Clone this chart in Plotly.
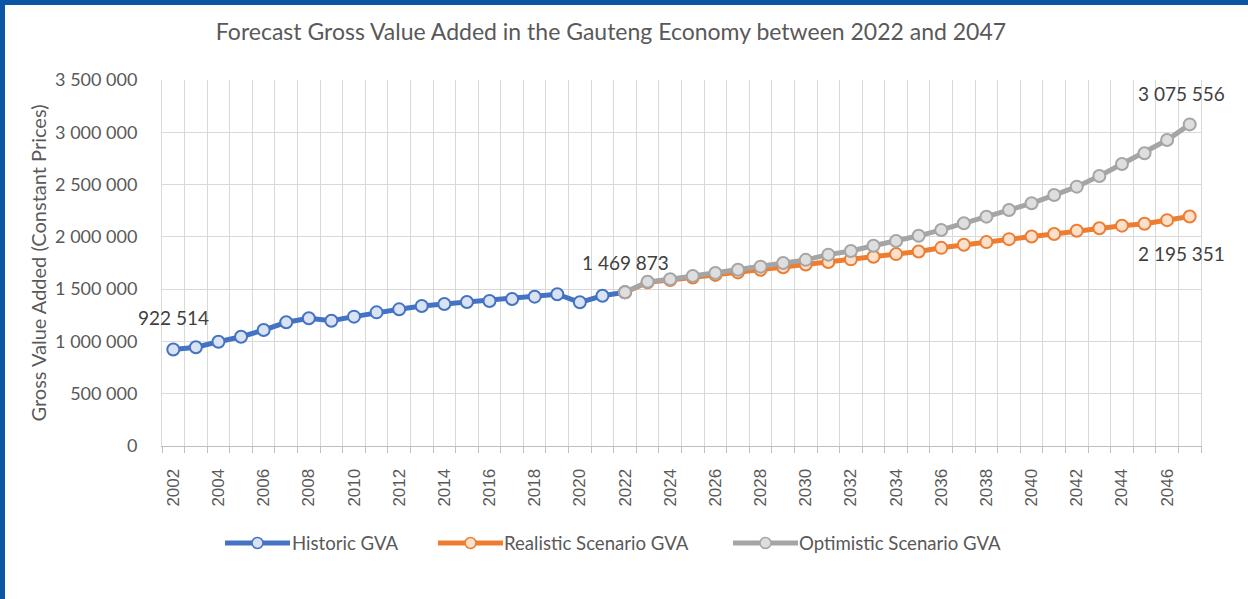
import plotly.graph_objects as go

# ---------------- data ----------------
hist_years = list(range(2002, 2023))
hist_gva = [922514, 944000, 997000, 1045000, 1109000, 1183000, 1221000, 1198000,
            1237000, 1278000, 1307000, 1339000, 1358000, 1377000, 1387000, 1406000,
            1428000, 1451000, 1374000, 1437000, 1469873]

fc_years = list(range(2022, 2048))
realistic_gva = [1469873, 1565000, 1588000, 1612000, 1636000, 1660000, 1685000, 1710000,
                 1735000, 1760000, 1785000, 1810000, 1835000, 1860000, 1895000, 1925000,
                 1950000, 1978000, 2003000, 2028000, 2058000, 2082000, 2107000, 2125000,
                 2160000, 2195351]
optimistic_gva = [1469873, 1570000, 1595000, 1625000, 1655000, 1685000, 1715000, 1750000,
                  1780000, 1830000, 1865000, 1915000, 1960000, 2010000, 2066000, 2130000,
                  2193000, 2257000, 2321000, 2400000, 2480000, 2582000, 2697000, 2799000,
                  2926000, 3075556]

series_names = ["Historic GVA", "Realistic Scenario GVA", "Optimistic Scenario GVA"]
y_ticks = [0, 500000, 1000000, 1500000, 2000000, 2500000, 3000000, 3500000]
x_tick_years = list(range(2002, 2047, 2))

title_text = "Forecast Gross Value Added in the Gauteng Economy between 2022 and 2047"
y_title = "Gross Value Added (Constant Prices)"

# ---------------- styling ----------------
W, H = 1248, 599
L, R, T, B = 162, 47, 80, 153
PW, PH = W - L - R, H - T - B

colors = ["#4472c4", "#ed7d31", "#a5a5a5"]
fills = ["#dae3f3", "#fbe0cc", "#dedede"]
FONT = "Lato"
TXT = "#595959"


def px_x(px):
    return (px - L) / PW


def px_y(py):
    return (T + PH - py) / PH


fig = go.Figure()
data_sets = [(hist_years, hist_gva), (fc_years, realistic_gva), (fc_years, optimistic_gva)]
for (xs, ys), name, c, f in zip(data_sets, series_names, colors, fills):
    fig.add_trace(go.Scatter(
        x=xs, y=ys, name=name, mode="lines+markers",
        line=dict(color=c, width=5),
        marker=dict(symbol="circle", size=12, color=f, line=dict(color=c, width=2)),
        showlegend=False, hoverinfo="skip",
    ))

# data labels
labels = [
    (hist_years[0], hist_gva[0], 0, 32),
    (hist_years[-1], hist_gva[-1], 0, 30),
    (fc_years[-1], optimistic_gva[-1], -8, 31),
    (fc_years[-1], realistic_gva[-1], -8, -37),
]
for xv, yv, dx, dy in labels:
    fig.add_annotation(x=xv, y=yv, text=f"{yv:,}".replace(",", " "), showarrow=False,
                       xshift=dx, yshift=dy,
                       font=dict(family=FONT, size=19, color="#404040"))

# custom legend (Excel style long line samples)
legend_items = [(225, 290, 290), (438, 503, 502), (733, 798, 797)]
ly = 543
for (x0, x1, tx), name, c, f in zip(legend_items, series_names, colors, fills):
    fig.add_shape(type="line", xref="paper", yref="paper",
                  x0=px_x(x0), x1=px_x(x1), y0=px_y(ly), y1=px_y(ly),
                  line=dict(color=c, width=5))
    xm = px_x((x0 + x1) / 2)
    fig.add_shape(type="circle", xref="paper", yref="paper",
                  xsizemode="pixel", ysizemode="pixel", xanchor=xm, yanchor=px_y(ly),
                  x0=-5.5, x1=5.5, y0=-5.5, y1=5.5,
                  fillcolor=f, line=dict(color=c, width=1.5))
    fig.add_annotation(xref="paper", yref="paper", x=px_x(tx), y=px_y(ly),
                       xanchor="left", yanchor="middle", showarrow=False, text=name,
                       font=dict(family=FONT, size=18.6, color=TXT))

# blue frame (top and left)
frame = "#0b56a4"
fig.add_shape(type="rect", xref="paper", yref="paper", layer="above",
              xsizemode="pixel", ysizemode="pixel", xanchor=0, yanchor=1,
              x0=-L, x1=W - L, y0=T - 5, y1=T + 2,
              fillcolor=frame, line=dict(width=0))
fig.add_shape(type="rect", xref="paper", yref="paper", layer="above",
              xsizemode="pixel", ysizemode="pixel", xanchor=0, yanchor=0,
              x0=-L - 2, x1=-L + 5, y0=-B - 2, y1=PH + T + 2,
              fillcolor=frame, line=dict(width=0))

fig.update_layout(
    width=W, height=H,
    margin=dict(l=L, r=R, t=T, b=B),
    paper_bgcolor="white", plot_bgcolor="white",
    separators=". ",
    title=dict(text=title_text, x=611 / W, xanchor="center", y=1 - 32 / H, yanchor="middle",
               font=dict(family=FONT, size=23, color=TXT)),
    showlegend=False,
    hovermode=False,
    xaxis=dict(
        range=[2001.5, 2047.5],
        tickmode="array", tickvals=x_tick_years, ticktext=[str(v) for v in x_tick_years],
        tickangle=-90, showgrid=False, zeroline=False,
        ticks="", ticklabelstandoff=15,
        tickfont=dict(family="Liberation Sans", size=17, color=TXT),
        showline=True, linecolor="#bfbfbf", linewidth=1,
        minor=dict(tick0=2001.5, dtick=1, showgrid=True, gridcolor="#d9d9d9", gridwidth=1,
                   ticks="outside", ticklen=6, tickcolor="#bfbfbf"),
    ),
    yaxis=dict(
        range=[0, 3500000], tickmode="array", tickvals=y_ticks, tickformat=",d",
        showgrid=True, gridcolor="#d9d9d9", gridwidth=1, zeroline=False,
        showline=True, linecolor="#d9d9d9", mirror=True,
        ticks="", ticklabelstandoff=20,
        tickfont=dict(family=FONT, size=18, color=TXT),
        title=dict(text=y_title, standoff=3, font=dict(family=FONT, size=20, color=TXT)),
    ),
)

fig.write_html("out.html", config={"displayModeBar": False},
               post_script="document.body.style.margin='0px';")
